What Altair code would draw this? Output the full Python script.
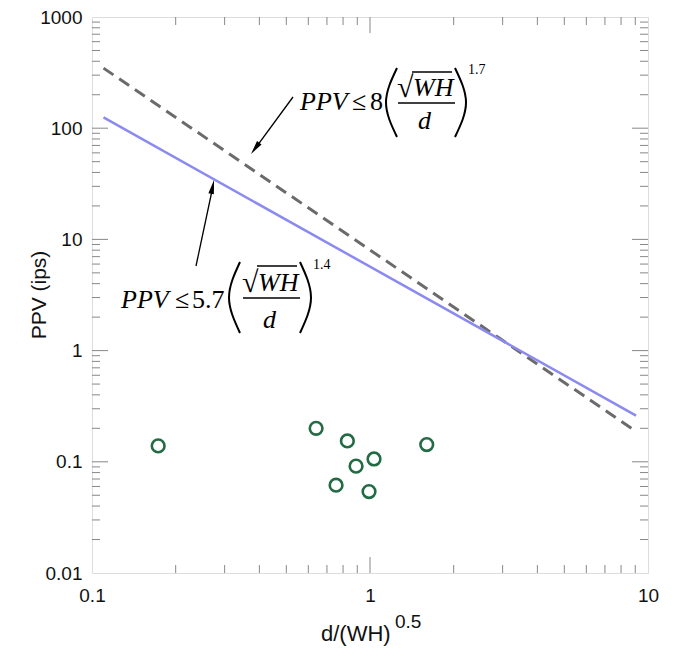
import altair as alt
import pandas as pd
import numpy as np

# ---------------- data ----------------
pt_x = [0.173, 0.64, 0.829, 1.034, 0.891, 0.755, 0.992, 1.60]
pt_y = [0.139, 0.200, 0.154, 0.106, 0.0914, 0.0616, 0.054, 0.143]

dash_x = [0.11, 8.8]
dash_y = [347, 0.197]
blue_x = [0.11, 9.06]
blue_y = [125, 0.26]

x_labels = [0.1, 1, 10]
y_labels = [0.01, 0.1, 1, 10, 100, 1000]
x_minor = [0.2, 0.3, 0.4, 0.5, 0.6, 0.7, 0.8, 0.9, 2, 3, 4, 5, 6, 7, 8, 9]
x_major = [1]
y_minor = [m * d for d in [0.01, 0.1, 1, 10, 100] for m in [2, 3, 4, 5, 6, 7, 8, 9]]
y_major = [0.1, 1, 10, 100]

# ---------------- layout ----------------
W, H = 556, 556
X0, Y0 = 92, 17  # page position of plot origin


def dx(px):
    return 0.1 * 10 ** ((px - X0) / W * 2)


def dy(py):
    return 1000 * 10 ** (-(py - Y0) / H * 5)


xs = alt.Scale(type="log", domain=[0.1, 10], nice=False)
ys = alt.Scale(type="log", domain=[0.01, 1000], nice=False)

pts = alt.Chart(pd.DataFrame({"x": pt_x, "y": pt_y})).mark_point(
    shape="circle", filled=False, size=160, strokeWidth=2.6, color="#236b44", opacity=1
).encode(
    x=alt.X("x:Q", scale=xs, axis=alt.Axis(values=x_labels, format="~g", title=None, domain=False,
                                          ticks=False, grid=False, labelFontSize=19, labelFont="Liberation Sans",
                                          labelColor="#111", labelPadding=13, labelFlush=False)),
    y=alt.Y("y:Q", scale=ys, axis=alt.Axis(values=y_labels, format="~g", title=None, domain=False,
                                          ticks=False, grid=False, labelFontSize=19, labelFont="Liberation Sans",
                                          labelColor="#111", labelPadding=10, labelFlush=False)),
)

dash = alt.Chart(pd.DataFrame({"x": dash_x, "y": dash_y})).mark_line(
    color="#6b6b6b", strokeWidth=3, strokeDash=[12, 7]
).encode(x=alt.X("x:Q", scale=xs), y=alt.Y("y:Q", scale=ys))

blue = alt.Chart(pd.DataFrame({"x": blue_x, "y": blue_y})).mark_line(
    color="#8a8af0", strokeWidth=2.5
).encode(x=alt.X("x:Q", scale=xs), y=alt.Y("y:Q", scale=ys))

tick_col = "#888888"
tlen_minor, tlen_major = 8, 16
ticks = []
for vals, L in [(x_minor, tlen_minor), (x_major, tlen_major)]:
    df = pd.DataFrame({"v": vals})
    ticks.append(alt.Chart(df).mark_rule(color=tick_col, strokeWidth=1).encode(
        x=alt.X("v:Q", scale=xs), y=alt.value(H), y2=alt.value(H - L)))
    ticks.append(alt.Chart(df).mark_rule(color=tick_col, strokeWidth=1).encode(
        x=alt.X("v:Q", scale=xs), y=alt.value(0), y2=alt.value(L)))
for vals, L in [(y_minor, tlen_minor), (y_major, tlen_major)]:
    df = pd.DataFrame({"v": vals})
    ticks.append(alt.Chart(df).mark_rule(color=tick_col, strokeWidth=1).encode(
        y=alt.Y("v:Q", scale=ys), x=alt.value(0), x2=alt.value(L)))
    ticks.append(alt.Chart(df).mark_rule(color=tick_col, strokeWidth=1).encode(
        y=alt.Y("v:Q", scale=ys), x=alt.value(W), x2=alt.value(W - L)))

# ---------------- annotations (page pixel positions -> data coords) ----------------
def tdf(items):
    return pd.DataFrame({"x": [dx(a[1]) for a in items], "y": [dy(a[2]) for a in items],
                         "t": [a[0] for a in items]})


def text_layer(items, **kw):
    return alt.Chart(tdf(items)).mark_text(align="left", baseline="middle", **kw).encode(
        x=alt.X("x:Q", scale=xs), y=alt.Y("y:Q", scale=ys), text="t:N")


FS = 26
ital = text_layer([("PPV", 300, 102), ("WH", 413, 88), ("d", 418, 121),
                   ("PPV", 121, 300), ("WH", 258, 283), ("d", 263, 320)],
                  font="Liberation Serif", fontStyle="italic", fontSize=FS, color="black")
norm = text_layer([("≤", 352, 102), ("8", 370, 102),
                   ("≤", 175, 300), ("5.7", 192, 300)],
                  font="Liberation Serif", fontSize=FS, color="black")
root = text_layer([("√", 397, 88), ("√", 242, 283)],
                  font="Liberation Serif", fontSize=30, color="black")
sup = text_layer([("1.7", 468, 70), ("1.4", 313, 265)],
                 font="Liberation Serif", fontSize=14, color="black")
xtitle = text_layer([("d/(WH)", 321, 634)], font="Liberation Sans", fontSize=22, color="#111")
xsup = text_layer([("0.5", 395, 622)], font="Liberation Sans", fontSize=19, color="#111")
ytitle = alt.Chart(tdf([("PPV (ips)", 40, 295)])).mark_text(
    align="center", baseline="middle", angle=270, font="Liberation Sans", fontSize=21, color="#111"
).encode(x=alt.X("x:Q", scale=xs), y=alt.Y("y:Q", scale=ys), text="t:N")

# segments: overlines, fraction bars, arrow shafts
segs = [(412, 72, 452, 72), (398, 103, 455, 103),
        (257, 266, 297, 266), (243, 298, 300, 298),
        (293, 97, 254, 150), (196, 266, 213, 186)]
seg_df = pd.DataFrame({"x": [dx(s[0]) for s in segs], "y": [dy(s[1]) for s in segs],
                       "x2": [dx(s[2]) for s in segs], "y2": [dy(s[3]) for s in segs]})
seg = alt.Chart(seg_df).mark_rule(color="black", strokeWidth=1.3).encode(
    x=alt.X("x:Q", scale=xs), y=alt.Y("y:Q", scale=ys), x2="x2:Q", y2="y2:Q")

# parentheses as curves
parens = [  # id, (x_end, top), (x_mid, mid), (x_end, bottom)
    (0, 397, 68, 386, 102.5, 397, 137),
    (1, 455, 68, 466, 102.5, 455, 137),
    (2, 240, 262, 229, 297.5, 240, 333),
    (3, 300, 262, 311, 297.5, 300, 333),
]
prow = []
for pid, x1, y1, x2, y2, x3, y3 in parens:
    for i, (a, b) in enumerate([(x1, y1), (x2, y2), (x3, y3)]):
        prow.append({"id": pid, "o": i, "x": dx(a), "y": dy(b)})
par = alt.Chart(pd.DataFrame(prow)).mark_line(
    color="black", strokeWidth=2, interpolate="natural"
).encode(x=alt.X("x:Q", scale=xs), y=alt.Y("y:Q", scale=ys), detail="id:N", order="o:Q")

# arrowheads
heads = [((293, 97), (251, 154)), ((196, 266), (214, 180))]
hrow = []
L = 14
for (tx, ty), (hx, hy) in heads:
    vx, vy = hx - tx, hy - ty
    n = np.hypot(vx, vy)
    ux, uy = vx / n, vy / n
    ang = float(np.degrees(np.arctan2(ux, -uy))) % 360
    cx, cy = hx - ux * L / 2, hy - uy * L / 2
    hrow.append({"x": dx(cx), "y": dy(cy), "a": ang})
head = alt.Chart(pd.DataFrame(hrow)).mark_point(
    shape="M0,-1L0.4,1L-0.4,1Z", filled=True, size=L * L, color="black", opacity=1
).encode(x=alt.X("x:Q", scale=xs), y=alt.Y("y:Q", scale=ys), angle=alt.Angle("a:Q", scale=None))

chart = alt.layer(
    *ticks, dash, blue, pts, seg, par, head, ital, norm, root, sup, xtitle, xsup, ytitle
).properties(
    width=W, height=H,
    autosize=alt.AutoSizeParams(type="none"),
    padding={"left": X0 - 8, "top": Y0 - 8, "right": 16, "bottom": 74},
).configure_view(stroke="#8c8c8c", strokeWidth=1.5).configure(background="white")

chart.save("out.html", embed_options={"renderer": "svg", "actions": False})
